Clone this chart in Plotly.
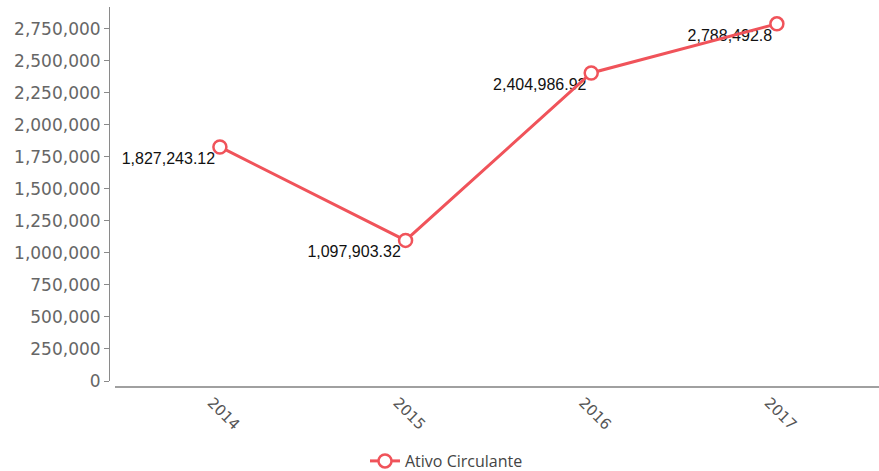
import plotly.graph_objects as go

years = ["2014", "2015", "2016", "2017"]
ativo_circulante = [1827243.12, 1097903.32, 2404986.92, 2788492.8]
labels = ["1,827,243.12", "1,097,903.32", "2,404,986.92", "2,788,492.8"]
y_ticks = [0, 250000, 500000, 750000, 1000000, 1250000, 1500000, 1750000,
           2000000, 2250000, 2500000, 2750000]

RED = "#f0535a"
W, H = 879, 471
ML, MT, MB, MR = 109, 7, 84, 0
PW = W - ML - MR
PH = H - MT - MB

fig = go.Figure()
# value labels (invisible small markers keep the labels close to the points)
fig.add_trace(go.Scatter(
    x=years, y=ativo_circulante, mode="markers+text",
    marker=dict(size=6, opacity=0),
    text=labels, textposition="bottom left",
    textfont=dict(family="Liberation Sans, Arial", size=16, color="#111"),
    showlegend=False, hoverinfo="skip", cliponaxis=False,
))
fig.add_trace(go.Scatter(
    x=years, y=ativo_circulante, mode="lines+markers",
    name="Ativo Circulante",
    line=dict(color=RED, width=3),
    marker=dict(symbol="circle", size=13, color="white",
                line=dict(color=RED, width=2.5)),
    cliponaxis=False,
))

fig.update_layout(
    width=W, height=H,
    margin=dict(l=ML, r=MR, t=MT, b=MB, autoexpand=False),
    paper_bgcolor="white", plot_bgcolor="white",
    showlegend=True,
    legend=dict(orientation="h", x=(365 - ML) / PW, xanchor="left",
                y=-0.15, yanchor="top",
                font=dict(family="Open Sans", size=16, color="#444")),
    xaxis=dict(
        type="category", range=[-0.565, 3.55], automargin=False,
        domain=[6 / PW, 1], anchor="free", position=0,
        showline=True, linecolor="#a0a0a0", linewidth=2,
        showgrid=False, zeroline=False, ticks="",
        tickangle=45, ticklabelshift=-8, ticklabelstandoff=0,
        tickfont=dict(family="DejaVu Sans", size=15, color="#555"),
    ),
    yaxis=dict(
        range=[0, 2920000], domain=[6 / PH, 1], anchor="free", position=0,
        automargin=False,
        tickvals=y_ticks, tickformat=",d",
        showline=True, linecolor="#8a8a8a", linewidth=1,
        showgrid=False, zeroline=False,
        ticks="outside", ticklen=5, tickcolor="#8a8a8a",
        tickfont=dict(family="DejaVu Sans", size=17, color="#666"),
    ),
)

fig.write_html("out.html", config={"displayModeBar": False},
               post_script="document.body.style.margin='0';")
